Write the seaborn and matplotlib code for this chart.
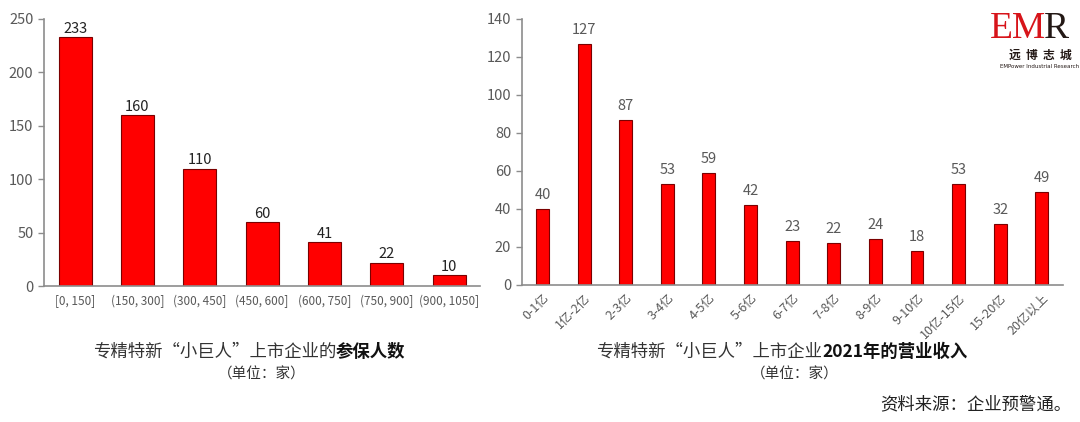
import pandas as pd
import matplotlib
matplotlib.use("Agg")
import matplotlib.pyplot as plt
import seaborn as sns

# ---- data ----
staff_bins = ["[0, 150]", "(150, 300]", "(300, 450]", "(450, 600]",
              "(600, 750]", "(750, 900]", "(900, 1050]"]
staff_counts = [233, 160, 110, 60, 41, 22, 10]

revenue_bins = ["0-1亿", "1亿-2亿", "2-3亿", "3-4亿", "4-5亿", "5-6亿", "6-7亿",
                "7-8亿", "8-9亿", "9-10亿", "10亿-15亿", "15-20亿", "20亿以上"]
revenue_counts = [40, 127, 87, 53, 59, 42, 23, 22, 24, 18, 53, 32, 49]

BAR_RED = "#FF0000"
EDGE = "#7a0000"
AXIS_GRAY = "#8c8c8c"
TICK_GRAY = "#595959"

sns.set_theme(style="white")
plt.rcParams["font.family"] = ["Noto Sans CJK SC", "DejaVu Sans"]
plt.rcParams["axes.unicode_minus"] = False

fig = plt.figure(figsize=(10.8, 4.22), dpi=100)
ax1 = fig.add_axes([0.0407, 0.322, 0.404, 0.633])
ax2 = fig.add_axes([0.483, 0.325, 0.501, 0.630])

df_staff = pd.DataFrame({"bin": staff_bins, "count": staff_counts})
df_rev = pd.DataFrame({"bin": revenue_bins, "count": revenue_counts})


def style_axes(ax, n, ymax, ystep):
    ax.set_ylim(0, ymax)
    ax.set_yticks(range(0, ymax + 1, ystep))
    ax.set_xlim(-0.5, n - 0.5)
    for side in ["top", "right"]:
        ax.spines[side].set_visible(False)
    for side in ["left", "bottom"]:
        ax.spines[side].set_color(AXIS_GRAY)
        ax.spines[side].set_linewidth(1.2)
    ax.set_xlabel("")
    ax.set_ylabel("")
    # excel style: tick marks between categories
    ax.set_xticks([i + 0.5 for i in range(-1, n)], minor=True)
    ax.tick_params(axis="x", which="major", length=0, pad=6)
    ax.tick_params(axis="x", which="minor", length=4, width=1, color=AXIS_GRAY, direction="out")
    ax.tick_params(axis="y", length=4, width=1, color=AXIS_GRAY, direction="out",
                   labelsize=10.5, labelcolor=TICK_GRAY, left=True)
    ax.grid(False)


sns.barplot(data=df_staff, x="bin", y="count", color=BAR_RED, width=0.53,
            edgecolor=EDGE, linewidth=0.8, saturation=1, ax=ax1)
style_axes(ax1, len(staff_bins), 250, 50)
ax1.tick_params(axis="x", labelsize=8.5, labelcolor=TICK_GRAY)
ax1.bar_label(ax1.containers[0], labels=[str(v) for v in staff_counts],
              padding=1, fontsize=10.5, color="#222222")

sns.barplot(data=df_rev, x="bin", y="count", color=BAR_RED, width=0.31,
            edgecolor=EDGE, linewidth=0.8, saturation=1, ax=ax2)
style_axes(ax2, len(revenue_bins), 140, 20)
ax2.tick_params(axis="x", labelsize=9, labelcolor=TICK_GRAY, pad=5)
for lab in ax2.get_xticklabels():
    lab.set_rotation(45)
    lab.set_ha("right")
    lab.set_rotation_mode("anchor")
ax2.bar_label(ax2.containers[0], labels=[str(v) for v in revenue_counts],
              padding=5, fontsize=10.5, color=TICK_GRAY)

# ---- titles (regular + bold part) ----
fig.text(336 / 1080, 1 - 352 / 422, "专精特新\u201c小巨人\u201d上市企业的", ha="right", va="center",
         fontsize=12.5, color="#333333")
fig.text(336 / 1080, 1 - 352 / 422, "参保人数", ha="left", va="center",
         fontsize=12.5, color="#111111", fontweight="bold")
fig.text(262 / 1080, 1 - 375 / 422, "（单位：家）", ha="center", va="center",
         fontsize=10.5, color="#333333")

fig.text(822 / 1080, 1 - 352 / 422, "专精特新\u201c小巨人\u201d上市企业", ha="right", va="center",
         fontsize=12.5, color="#333333")
fig.text(822 / 1080, 1 - 352 / 422, "2021年的营业收入", ha="left", va="center",
         fontsize=12.5, color="#111111", fontweight="bold")
fig.text(795 / 1080, 1 - 375 / 422, "（单位：家）", ha="center", va="center",
         fontsize=10.5, color="#333333")

fig.text(1071 / 1080, 1 - 404 / 422, "资料来源：企业预警通。", ha="right", va="center",
         fontsize=12.5, color="#222222")

# ---- logo ----
fig.text(1046 / 1080, 1 - 29 / 422, "EM", ha="right", va="center", fontsize=27,
         family="Liberation Serif", color="#d7141a")
fig.text(1044 / 1080, 1 - 29 / 422, "R", ha="left", va="center", fontsize=27,
         family="Liberation Serif", color="#231815")
fig.text(1040 / 1080, 1 - 55 / 422, "远  博  志  城", ha="center", va="center",
         fontsize=8.5, color="#231815", fontweight="bold")
fig.text(1040 / 1080, 1 - 67 / 422, "EMPower Industrial Research", ha="center", va="center",
         fontsize=4, color="#231815", family="DejaVu Sans")

fig.savefig("out.png", dpi=100, facecolor="white")
